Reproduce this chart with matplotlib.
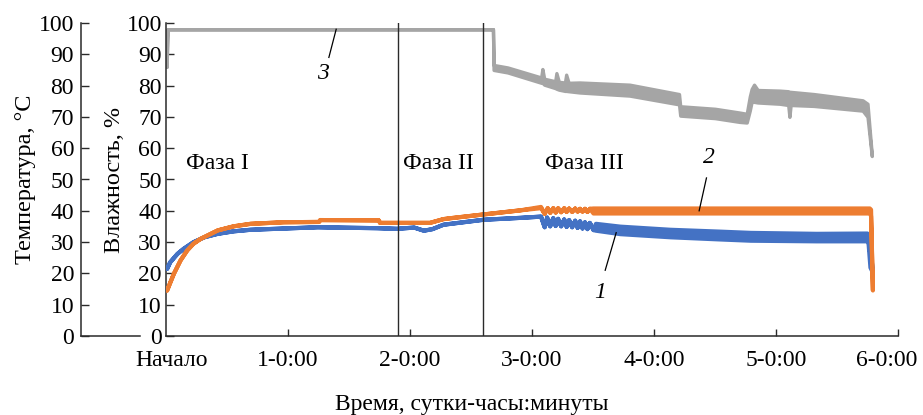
import matplotlib
matplotlib.use("Agg")
import matplotlib.pyplot as plt
from matplotlib.transforms import ScaledTranslation

plt.rcParams['font.family'] = ['Liberation Serif', 'DejaVu Serif']

# ---------------- data (days since start, value) ----------------
# Curve 3 (gray)
gray_t  = [0.005, 0.012, 2.680, 2.685, 2.80, 3.075, 3.085, 3.10, 3.19, 3.20, 3.22, 3.27, 3.28, 3.30,
           3.39, 3.80, 4.205, 4.215, 4.50, 4.70, 4.76, 4.785, 4.80, 4.82, 4.85, 5.03, 5.10, 5.11, 5.12,
           5.31, 5.71, 5.75, 5.785]
gray_lo = [86.0, 98.0, 98.0, 85.0, 84.2, 80.9, 80.9, 80.3, 79.2, 79.0, 78.7, 78.3, 78.3, 78.2,
           77.8, 76.8, 74.0, 70.4, 69.6, 68.4, 68.2, 72.0, 74.8, 74.8, 74.6, 74.2, 73.8, 70.0, 73.8,
           73.5, 72.0, 70.0, 57.5]
gray_hi = [86.0, 98.0, 98.0, 86.6, 85.8, 82.6, 85.3, 82.2, 81.4, 84.0, 81.2, 81.0, 83.5, 80.9,
           81.0, 80.3, 77.3, 73.4, 72.6, 71.4, 71.0, 76.5, 78.9, 80.3, 78.6, 78.4, 78.2, 78.0, 78.0,
           77.3, 75.3, 74.2, 58.0]

# Curve 2 (orange)
orange_t  = [0.005, 0.06, 0.115, 0.17, 0.22, 0.28, 0.42, 0.55, 0.69, 0.96, 1.25, 1.26, 1.74, 1.75,
             2.16, 2.27, 2.33, 2.60, 2.90, 3.07,
             3.10, 3.125, 3.145, 3.17, 3.19, 3.21, 3.235, 3.26, 3.28, 3.30, 3.325, 3.35, 3.37,
             3.39, 3.41, 3.43, 3.45, 3.47, 3.50, 5.765, 5.775, 5.79]
orange_lo = [14.7, 20.0, 24.3, 27.5, 29.6, 31.2, 33.9, 35.2, 36.0, 36.5, 36.6, 37.2, 37.1, 36.3,
             36.3, 37.5, 37.8, 39.0, 40.3, 41.0,
             39.2, 41.0, 39.5, 41.0, 39.6, 41.0, 39.7, 41.0, 39.8, 40.9, 39.8, 40.9, 39.9,
             40.8, 39.9, 40.8, 39.8, 40.8, 39.3, 39.3, 38.5, 14.7]
orange_hi = [14.7, 20.0, 24.3, 27.5, 29.6, 31.2, 33.9, 35.2, 36.0, 36.5, 36.6, 37.2, 37.1, 36.3,
             36.3, 37.5, 37.8, 39.0, 40.3, 41.4,
             39.2, 41.0, 39.5, 41.0, 39.6, 41.0, 39.7, 41.0, 39.8, 40.9, 39.8, 40.9, 39.9,
             40.8, 39.9, 40.8, 39.8, 40.8, 40.9, 40.9, 40.5, 14.7]

# Curve 1 (blue)
blue_t  = [0.005, 0.03, 0.09, 0.14, 0.22, 0.31, 0.42, 0.55, 0.69, 1.24, 1.73, 1.89, 2.03, 2.11,
           2.18, 2.27, 2.33, 2.60, 2.90, 3.07,
           3.10, 3.12, 3.145, 3.17, 3.19, 3.21, 3.235, 3.26, 3.28, 3.30, 3.325, 3.35, 3.37,
           3.39, 3.41, 3.43, 3.45, 3.47, 3.50,
           3.52, 3.72, 4.13, 4.54, 4.79, 5.33, 5.745, 5.755, 5.77, 5.79]
blue_lo = [21.6, 23.7, 26.4, 28.0, 30.1, 31.7, 32.8, 33.6, 34.1, 34.9, 34.6, 34.4, 34.8, 33.8,
           34.3, 35.7, 36.0, 37.3, 37.9, 38.3,
           34.9, 38.0, 35.2, 37.8, 35.3, 37.6, 35.2, 37.4, 35.0, 37.2, 34.9, 37.0, 34.7,
           36.8, 34.5, 36.5, 34.3, 36.3, 34.0,
           33.8, 32.7, 31.7, 31.0, 30.6, 30.4, 30.4, 29.5, 22.0, 20.4]
blue_hi = [21.6, 23.7, 26.4, 28.0, 30.1, 31.7, 32.8, 33.6, 34.1, 34.9, 34.6, 34.4, 34.8, 33.8,
           34.3, 35.7, 36.0, 37.3, 37.9, 38.3,
           34.9, 38.0, 35.2, 37.8, 35.3, 37.6, 35.2, 37.4, 35.0, 37.2, 34.9, 37.0, 34.7,
           36.8, 34.5, 36.5, 34.3, 36.3, 34.0,
           36.0, 35.1, 34.1, 33.5, 33.1, 32.8, 32.9, 31.0, 26.0, 22.0]

phase_lines = [1.90, 2.60]
phase_labels = ["Фаза I", "Фаза II", "Фаза III"]
phase_label_x = [0.16, 1.94, 3.11]

x_ticks = [0, 1, 2, 3, 4, 5, 6]
x_ticklabels = ["Начало", "1-0:00", "2-0:00", "3-0:00", "4-0:00", "5-0:00", "6-0:00"]
y_ticks = [0, 10, 20, 30, 40, 50, 60, 70, 80, 90, 100]

# ---------------- figure ----------------
W, H = 923, 415
fig = plt.figure(figsize=(W / 100, H / 100), dpi=100)

def box(x0, x1, y_top, y_bot):
    return [x0 / W, (H - y_bot) / H, (x1 - x0) / W, (y_bot - y_top) / H]

spine_c = '#2a2a2a'
FS = 17

ax = fig.add_axes(box(166, 898, 23, 336))
ax0 = fig.add_axes(box(81, 140, 23, 336))

for a in (ax, ax0):
    for s in ('top', 'right'):
        a.spines[s].set_visible(False)
    for s in ('left', 'bottom'):
        a.spines[s].set_color(spine_c)
        a.spines[s].set_linewidth(1.1)
    a.set_ylim(0, 100)
    a.set_yticks(y_ticks)
    a.tick_params(axis='y', direction='in', length=6, width=1.0, color=spine_c,
                  labelsize=FS, pad=5)

ax0.set_xticks([])
ax0.patch.set_visible(False)
ax0.set_ylabel("Температура, °C", fontsize=FS + 0.5, labelpad=2)

ax.patch.set_visible(False)
ax.set_xlim(0, 6)
ax.set_xticks(x_ticks)
ax.set_xticklabels(x_ticklabels)
ax.tick_params(axis='x', direction='in', length=5, width=1.0, color=spine_c,
               labelsize=FS, pad=10)
ax.tick_params(axis='y', pad=3)
ax.set_ylabel("Влажность, %", fontsize=FS + 0.5, labelpad=1)
ax.set_xlabel("Время, сутки-часы:минуты", fontsize=FS)
ax.xaxis.set_label_coords(0.418, -0.185)

# shift first / last tick labels slightly
ticks = ax.xaxis.get_major_ticks()
ticks[0].label1.set_transform(ticks[0].label1.get_transform() +
                              ScaledTranslation(4 / 72, 0, fig.dpi_scale_trans))
ticks[-1].label1.set_transform(ticks[-1].label1.get_transform() +
                               ScaledTranslation(-8 / 72, 0, fig.dpi_scale_trans))
ticks[0].tick1line.set_visible(False)

# series
c_gray, c_orange, c_blue = '#a5a5a5', '#ed7d31', '#4472c4'
ax.fill_between(gray_t, gray_lo, gray_hi, facecolor=c_gray, edgecolor=c_gray,
                linewidth=2.4, zorder=2)
ax.fill_between(blue_t, blue_lo, blue_hi, facecolor=c_blue, edgecolor=c_blue,
                linewidth=3.0, zorder=3)
ax.fill_between(orange_t, orange_lo, orange_hi, facecolor=c_orange, edgecolor=c_orange,
                linewidth=3.0, zorder=4)

for xv in phase_lines:
    ax.plot([xv, xv], [0, 100], color=spine_c, lw=1.0, zorder=5)

for lbl, xv in zip(phase_labels, phase_label_x):
    ax.text(xv, 55.0, lbl, fontsize=FS, ha='left', va='center')

# curve number labels with leaders
ax.text(1.29, 84.0, "3", fontsize=FS, style='italic', ha='center', va='center')
ax.plot([1.335, 1.395], [89.0, 98.0], color='black', lw=0.9, zorder=6)
ax.text(4.45, 57.0, "2", fontsize=FS, style='italic', ha='center', va='center')
ax.plot([4.43, 4.37], [50.5, 40.0], color='black', lw=0.9, zorder=6)
ax.text(3.56, 14.0, "1", fontsize=FS, style='italic', ha='center', va='center')
ax.plot([3.60, 3.69], [21.0, 33.0], color='black', lw=0.9, zorder=6)

fig.savefig("out.png", dpi=100)
